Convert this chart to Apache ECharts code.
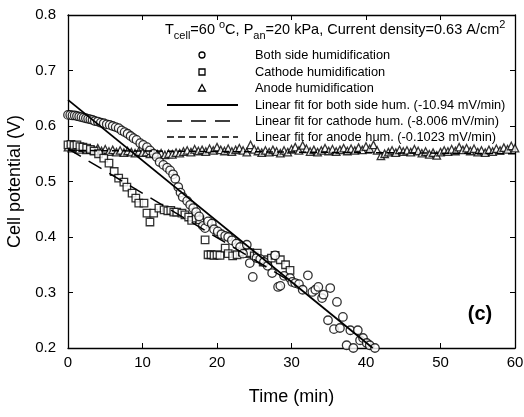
<!DOCTYPE html>
<html>
<head>
<meta charset="utf-8">
<script src="https://cdn.jsdelivr.net/npm/echarts@6/dist/echarts.min.js"></script>
<style>
html, body { margin: 0; padding: 0; background: #fff; }
#chart { width: 524px; height: 417px; }
</style>
</head>
<body>
<div id="chart"></div>
<script>
// measured points [time (min), potential (V)]
const bothSide = [[0,0.620],[0.3,0.620],[0.6,0.619],[0.9,0.619],[1.2,0.618],[1.5,0.617],[1.8,0.616],[2.1,0.615],[2.4,0.614],[2.7,0.613],[3.0,0.612],[3.3,0.611],[3.6,0.609],[4.0,0.608],[4.4,0.606],[4.8,0.605],[5.2,0.603],[5.6,0.602],[6.0,0.600],[6.4,0.598],[6.8,0.596],[7.2,0.592],[7.6,0.589],[8.0,0.586],[8.4,0.582],[8.8,0.578],[9.2,0.575],[9.7,0.569],[10.1,0.566],[10.6,0.562],[11.0,0.556],[11.5,0.550],[11.9,0.544],[12.3,0.535],[12.8,0.530],[13.3,0.525],[13.7,0.520],[14.1,0.513],[14.4,0.505],[14.8,0.490],[15.1,0.480],[15.4,0.472],[16.0,0.465],[16.4,0.458],[16.8,0.452],[17.2,0.445],[17.6,0.437],[18.1,0.420],[18.4,0.416],[18.8,0.428],[19.3,0.424],[19.6,0.414],[20.1,0.410],[20.6,0.405],[21.1,0.402],[21.5,0.400],[22.0,0.394],[22.6,0.388],[23.1,0.382],[23.5,0.370],[24.0,0.386],[24.4,0.353],[24.8,0.328],[25.3,0.362],[25.8,0.360],[26.3,0.355],[26.8,0.348],[27.4,0.335],[27.8,0.367],[28.2,0.310],[28.5,0.312],[29.0,0.330],[29.8,0.326],[30.1,0.319],[30.5,0.317],[31.0,0.315],[31.5,0.305],[32.2,0.331],[32.8,0.301],[33.2,0.305],[33.6,0.310],[34.1,0.290],[34.3,0.296],[34.9,0.250],[35.2,0.308],[35.7,0.234],[36.1,0.283],[36.5,0.236],[36.9,0.256],[37.4,0.205],[37.9,0.232],[38.3,0.200],[38.9,0.232],[39.2,0.214],[39.6,0.218],[40.1,0.209],[40.5,0.205],[41.2,0.200],[41.9,0.197]];

const cathode = [[0,0.566],[0.4,0.567],[0.8,0.565],[1.2,0.566],[1.6,0.563],[2.0,0.562],[2.5,0.560],[3.0,0.558],[3.5,0.555],[4.1,0.550],[4.8,0.542],[5.5,0.533],[6.2,0.518],[6.8,0.506],[7.5,0.499],[7.9,0.490],[8.6,0.479],[9.1,0.470],[9.5,0.461],[10.2,0.461],[10.6,0.443],[11.0,0.427],[11.5,0.443],[12.2,0.452],[12.9,0.449],[13.4,0.447],[13.8,0.448],[14.2,0.445],[14.6,0.445],[15.3,0.443],[15.7,0.440],[16.2,0.436],[16.6,0.430],[17.2,0.434],[17.7,0.431],[18.4,0.395],[18.8,0.368],[19.2,0.368],[19.6,0.367],[20.0,0.368],[20.4,0.367],[21.1,0.380],[21.5,0.370],[22.1,0.366],[22.7,0.368],[23.4,0.373],[24.0,0.370],[24.4,0.372],[25.0,0.366],[25.4,0.371],[26.2,0.355],[26.8,0.359],[27.3,0.362],[27.8,0.367],[28.5,0.359],[29.2,0.350],[29.8,0.340]];

// anode humidification, one reading every 0.5 min from 0 to 60
const anodeTimes = [];
for (let t = 0; t <= 60; t += 0.5) anodeTimes.push(t);
const anodeValues = [
  0.562,0.560,0.563,0.558,0.561,0.557,0.559,0.556,0.560,0.555,0.558,
  0.554,0.557,0.553,0.556,0.552,0.555,0.553,0.551,0.554,0.552,
  0.553,0.550,0.552,0.549,0.551,0.548,0.550,0.549,0.552,0.551,
  0.554,0.556,0.553,0.558,0.555,0.557,0.554,0.559,0.556,0.562,
  0.557,0.555,0.559,0.554,0.557,0.560,0.556,0.553,0.566,0.558,
  0.555,0.552,0.556,0.553,0.557,0.554,0.551,0.556,0.553,0.558,
  0.562,0.556,0.565,0.559,0.554,0.557,0.553,0.556,0.560,0.555,
  0.558,0.554,0.557,0.560,0.555,0.559,0.556,0.561,0.557,0.563,
  0.559,0.566,0.556,0.546,0.550,0.553,0.556,0.552,0.557,0.554,
  0.556,0.553,0.558,0.555,0.551,0.554,0.549,0.552,0.547,0.553,
  0.556,0.554,0.558,0.555,0.562,0.557,0.560,0.555,0.559,0.553,
  0.556,0.552,0.557,0.554,0.559,0.556,0.561,0.558,0.564,0.560
];

// linear fit end points
const fitBoth = [[0,0.647],[40.9,0.200]];
const fitCathode = [[0,0.559],[30,0.319]];
const fitAnode = [[0,0.556],[60,0.550]];

const xTicks = [0, 10, 20, 30, 40, 50, 60];
const yTicks = [0.2, 0.3, 0.4, 0.5, 0.6, 0.7, 0.8];

const legendNames = [
  'Both side humidification',
  'Cathode humidification',
  'Anode humidification',
  'Linear fit for both side hum. (-10.94 mV/min)',
  'Linear fit for cathode hum. (-8.006 mV/min)',
  'Linear fit for anode hum. (-0.1023 mV/min)'
];

const FONT = 'Liberation Sans, Arial, sans-serif';
const black = '#000';

const chart = echarts.init(document.getElementById('chart'), null, { renderer: 'canvas' });

function axisBase(ticks) {
  return {
    type: 'value',
    min: ticks[0],
    max: ticks[ticks.length - 1],
    interval: ticks[1] - ticks[0],
    axisLine: { show: true, onZero: false, lineStyle: { color: black, width: 1.3 } },
    axisTick: { show: true, inside: true, length: 5, lineStyle: { color: black, width: 1 } },
    splitLine: { show: false }
  };
}

const markerStyle = { color: '#fff', borderColor: black, borderWidth: 1.3 };

// legend drawn as graphic so that markers keep their own shape
const legendX = 202, lineX1 = 167, lineX2 = 238, textX = 255;
const rowY = [55, 72, 88, 105, 121, 137];
const legendGraphic = [];
legendGraphic.push({ type: 'circle', shape: { cx: legendX, cy: rowY[0], r: 3 }, style: { fill: '#fff', stroke: black, lineWidth: 1.3 } });
legendGraphic.push({ type: 'rect', shape: { x: legendX - 3, y: rowY[1] - 3, width: 6, height: 6 }, style: { fill: '#fff', stroke: black, lineWidth: 1.3 } });
legendGraphic.push({ type: 'polygon', shape: { points: [[legendX, rowY[2] - 3.5], [legendX - 3.5, rowY[2] + 3], [legendX + 3.5, rowY[2] + 3]] }, style: { fill: '#fff', stroke: black, lineWidth: 1.3 } });
legendGraphic.push({ type: 'line', shape: { x1: lineX1, y1: rowY[3], x2: lineX2, y2: rowY[3] }, style: { stroke: black, lineWidth: 2 } });
legendGraphic.push({ type: 'line', shape: { x1: lineX1, y1: rowY[4], x2: lineX2, y2: rowY[4] }, style: { stroke: black, lineWidth: 1.5, lineDash: [15, 9] } });
legendGraphic.push({ type: 'line', shape: { x1: lineX1, y1: rowY[5], x2: lineX2, y2: rowY[5] }, style: { stroke: black, lineWidth: 1.5, lineDash: [7, 4] } });
legendNames.forEach(function (name, i) {
  legendGraphic.push({
    type: 'text', x: textX, y: rowY[i],
    style: { text: name, fill: black, font: '12.8px ' + FONT, verticalAlign: 'middle' }
  });
});

const option = {
  backgroundColor: '#fff',
  animation: false,
  grid: { left: 68, right: 9, top: 15, bottom: 69, outerBoundsMode: 'none' },
  xAxis: [
    Object.assign(axisBase(xTicks), {
      position: 'bottom',
      name: 'Time (min)',
      nameLocation: 'middle',
      nameGap: 40,
      nameTextStyle: { color: black, fontSize: 18, fontFamily: FONT },
      axisLabel: { color: black, fontSize: 15, fontFamily: FONT, margin: 7 }
    }),
    Object.assign(axisBase(xTicks), { position: 'top', axisLabel: { show: false } })
  ],
  yAxis: [
    Object.assign(axisBase(yTicks), {
      position: 'left',
      name: 'Cell potential (V)',
      nameLocation: 'middle',
      nameGap: 44,
      nameTextStyle: { color: black, fontSize: 18, fontFamily: FONT },
      axisLabel: { color: black, fontSize: 15, fontFamily: FONT, margin: 12, formatter: v => v.toFixed(1) }
    }),
    Object.assign(axisBase(yTicks), { position: 'right', axisLabel: { show: false } })
  ],
  series: [
    { name: legendNames[2], type: 'scatter', symbol: 'triangle', symbolSize: 7.5, itemStyle: markerStyle,
      data: anodeTimes.map((t, i) => [t, anodeValues[i]]), z: 2 },
    { name: legendNames[1], type: 'scatter', symbol: 'rect', symbolSize: 7.5, itemStyle: markerStyle, data: cathode, z: 3 },
    { name: legendNames[0], type: 'scatter', symbol: 'circle', symbolSize: 8.5, itemStyle: markerStyle, data: bothSide, z: 4 },
    { name: legendNames[3], type: 'line', data: fitBoth, symbol: 'none', lineStyle: { color: black, width: 1.8 }, z: 5 },
    { name: legendNames[4], type: 'line', data: fitCathode, symbol: 'none', lineStyle: { color: black, width: 1.5, type: [15, 9] }, z: 5 },
    { name: legendNames[5], type: 'line', data: fitAnode, symbol: 'none', lineStyle: { color: black, width: 1.5, type: [7, 4] }, z: 5 }
  ],
  graphic: [
    {
      type: 'text', x: 165, y: 30,
      style: {
        text: 'T{sub|cell}=60 {sup|o}C, P{sub|an}=20 kPa, Current density=0.63 A/cm{sup|2}',
        fill: black, font: '14.5px ' + FONT, verticalAlign: 'middle',
        rich: {
          sub: { fontSize: 11, fontFamily: FONT, verticalAlign: 'bottom', lineHeight: 22 },
          sup: { fontSize: 11, fontFamily: FONT, verticalAlign: 'top', lineHeight: 22 }
        }
      }
    },
    {
      type: 'text', x: 480, y: 314,
      style: { text: '(c)', fill: black, font: 'bold 20px ' + FONT, align: 'center', verticalAlign: 'middle' }
    }
  ].concat(legendGraphic)
};

chart.setOption(option);
</script>
</body>
</html>
